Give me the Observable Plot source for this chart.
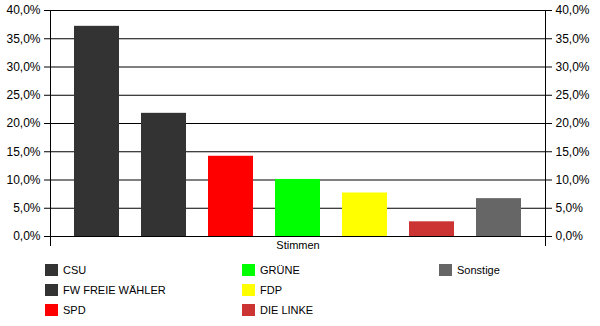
<!DOCTYPE html>
<html>
<head>
<meta charset="utf-8">
<script src="https://cdn.jsdelivr.net/npm/d3@7"></script>
<script src="https://cdn.jsdelivr.net/npm/@observablehq/plot@0.6"></script>
<style>
  html, body { margin: 0; padding: 0; background: #fff; }
  #wrap { position: relative; width: 600px; height: 326px; font-family: "Liberation Sans", Arial, sans-serif; }
  #legend { position: relative; width: 600px; height: 70px; }
  .item { position: absolute; font-size: 11px; color: #000; white-space: nowrap; line-height: 12px; }
  .swatch { position: absolute; width: 13px; height: 12px; }
  svg { display: block; }
</style>
</head>
<body>
<div id="wrap"></div>
<script>
// Stimmenanteile (in Prozent)
const parties = ["CSU", "FW FREIE WÄHLER", "SPD", "GRÜNE", "FDP", "DIE LINKE", "Sonstige"];
const shares = [37.2, 21.8, 14.2, 10.1, 7.7, 2.6, 6.7];
const colors = ["#333333", "#333333", "#ff0000", "#00ff00", "#ffff00", "#cc3333", "#666666"];
const yTicks = [0, 5, 10, 15, 20, 25, 30, 35, 40];
const categoryLabel = "Stimmen";

const data = parties.map((p, i) => ({party: p, value: shares[i] / 100, color: colors[i]}));

const de = d3.formatLocale({decimal: ",", thousands: ".", grouping: [3], currency: ["", " €"]});
const pct = de.format(".1%");

const chart = Plot.plot({
  width: 600,
  height: 256,
  marginTop: 10,
  marginBottom: 20,
  marginLeft: 50,
  marginRight: 55,
  style: {fontFamily: "'Liberation Sans', Arial, sans-serif", fontSize: "12px", color: "#000", background: "#fff"},
  x: {type: "band", domain: parties, paddingInner: 0.33, paddingOuter: 0.33, axis: null},
  y: {domain: [0, 0.4], label: null},
  color: {type: "identity"},
  marks: [
    Plot.gridY(yTicks.map(d => d / 100), {stroke: "#000", strokeOpacity: 1}),
    Plot.barY(data, {x: "party", y: "value", fill: "color"}),
    Plot.frame({stroke: "#000"}),
    Plot.axisY(yTicks.map(d => d / 100), {anchor: "left", tickSize: 6, tickPadding: 4, tickFormat: pct, label: null, stroke: "#000"}),
    Plot.axisY(yTicks.map(d => d / 100), {anchor: "right", tickSize: 6, tickPadding: 4, tickFormat: pct, label: null, stroke: "#000"}),
    Plot.text([categoryLabel], {frameAnchor: "bottom", dy: 12, fontSize: 11, fill: "#000"})
  ]
});

// category-axis boundary ticks below the baseline
const xr = chart.scale("x").range;
const y0 = chart.scale("y").apply(0);
const svg = d3.select(chart);
for (const x of xr) {
  svg.append("line")
    .attr("x1", Math.round(x) + 0.5).attr("x2", Math.round(x) + 0.5)
    .attr("y1", y0).attr("y2", y0 + 10)
    .attr("stroke", "#000");
}

const wrap = document.getElementById("wrap");
wrap.appendChild(chart);

// legend: three rows per column
const legend = d3.select(wrap).append("div").attr("id", "legend");
const colX = [45, 242, 439];
parties.forEach((p, i) => {
  const col = Math.floor(i / 3), row = i % 3;
  const top = 8 + row * 20;
  legend.append("div").attr("class", "swatch")
    .style("left", colX[col] + "px").style("top", top + "px")
    .style("background", colors[i]);
  legend.append("div").attr("class", "item")
    .style("left", (colX[col] + 18) + "px").style("top", top + "px")
    .text(p);
});
</script>
</body>
</html>
